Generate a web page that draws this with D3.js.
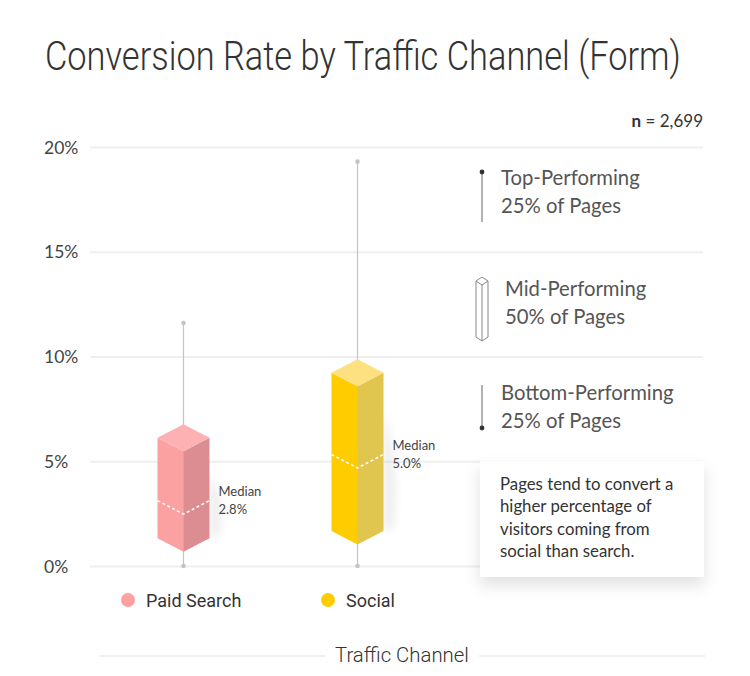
<!DOCTYPE html>
<html>
<head>
<meta charset="utf-8">
<script src="https://cdn.jsdelivr.net/npm/d3@7"></script>
<style>
  body { margin: 0; background: #fff; }
  svg { display: block; }
</style>
</head>
<body>
<div id="chart"></div>
<script>
// data (values in %)
const channels = ["Paid Search", "Social"];
const mins = [0, 0];
const q1s = [1.0, 1.35];
const medians = [2.8, 5.0];
const q3s = [5.8, 8.9];
const maxs = [11.6, 19.3];
const medianLabels = ["2.8%", "5.0%"];
const yTicks = [0, 5, 10, 15, 20];
const sampleSize = "2,699";
const noteLines = ["Pages tend to convert a", "higher percentage of", "visitors coming from", "social than search."];

const colors = [
    { left: "#fca1a2", right: "#db8d91", top: "#fdb1b2", dot: "#fca1a2" },
    { left: "#ffcc00", right: "#e0c54e", top: "#fde080", dot: "#ffcc00" }
];

const W = 750, H = 676;
const svg = d3.select("#chart").append("svg").attr("width", W).attr("height", H);
const defs = svg.append("defs");
defs.append("filter").attr("id", "blur").attr("x", "-50%").attr("y", "-50%").attr("width", "200%").attr("height", "200%")
    .append("feGaussianBlur").attr("stdDeviation", 5);
const shadow = defs.append("filter").attr("id", "card").attr("x", "-20%").attr("y", "-20%").attr("width", "140%").attr("height", "160%");
shadow.append("feDropShadow").attr("dx", 0).attr("dy", 8).attr("stdDeviation", 8)
    .attr("flood-color", "#000").attr("flood-opacity", 0.12);

const y = d3.scaleLinear().domain([0, 20]).range([566, 147]);
const x = d3.scalePoint().domain(channels).range([183.5, 357.5]);
const left = 90, right = 703;

// squeeze a text horizontally to a given width (the original uses a condensed face)
function condense(sel, width) {
    const w = sel.node().getComputedTextLength();
    const tx = +sel.attr("data-x"), ty = +sel.attr("data-y");
    sel.attr("transform", `translate(${tx},${ty}) scale(${Math.min(1, width / w)},1)`);
}

// title
const title = svg.append("text")
    .attr("data-x", 45).attr("data-y", 70)
    .attr("font-family", "Roboto, sans-serif").attr("font-weight", 300)
    .attr("font-size", 40).attr("fill", "#333")
    .text("Conversion Rate by Traffic Channel (Form)");
condense(title, 636);

// sample size
const nText = svg.append("text")
    .attr("x", 703).attr("y", 127).attr("text-anchor", "end")
    .attr("font-family", "Lato, sans-serif").attr("font-size", 17).attr("fill", "#333");
nText.append("tspan").attr("font-weight", "bold").text("n");
nText.append("tspan").text(" = " + sampleSize);

// grid + y labels
const yAxis = svg.append("g")
    .attr("transform", `translate(${left},0)`)
    .call(d3.axisRight(y).tickValues(yTicks).tickSize(right - left).tickFormat(d => d + "%"));
yAxis.select(".domain").remove();
yAxis.selectAll(".tick line").attr("stroke", "#efefef").attr("stroke-width", 2);
yAxis.selectAll(".tick text")
    .attr("x", -46).attr("dy", "0.35em").attr("text-anchor", "start")
    .attr("font-family", "Lato, sans-serif").attr("font-size", 17.5).attr("fill", "#444");

// boxes
const hw = 26, hh = 13.5, half = hh / 2;
const boxes = svg.append("g");
channels.forEach((c, i) => {
    const cx = x(c);
    const g = boxes.append("g");
    const yTop = y(q3s[i]), yBot = y(q1s[i]);

    // whisker
    g.append("line").attr("x1", cx).attr("x2", cx).attr("y1", y(maxs[i])).attr("y2", y(mins[i]))
        .attr("stroke", "#c4c4c4").attr("stroke-width", 1.2);
    [maxs[i], mins[i]].forEach(v => g.append("circle").attr("cx", cx).attr("cy", y(v)).attr("r", 2.3).attr("fill", "#c4c4c4"));

    // soft shadow on the right
    g.append("path")
        .attr("d", `M${cx + hw},${yTop + 30} Q${cx + hw + 16},${(yTop + yBot) / 2} ${cx + hw + 10},${yBot - 10} L${cx + hw},${yBot - 5} Z`)
        .attr("fill", "#000").attr("opacity", 0.07).attr("filter", "url(#blur)");

    // left face
    g.append("path")
        .attr("d", `M${cx - hw},${yTop - half} L${cx},${yTop + half} L${cx},${yBot + half} L${cx - hw},${yBot - half} Z`)
        .attr("fill", colors[i].left);
    // right face
    g.append("path")
        .attr("d", `M${cx},${yTop + half} L${cx + hw},${yTop - half} L${cx + hw},${yBot - half} L${cx},${yBot + half} Z`)
        .attr("fill", colors[i].right);
    // top face
    g.append("path")
        .attr("d", `M${cx},${yTop - half - hh} L${cx + hw},${yTop - half} L${cx},${yTop + half} L${cx - hw},${yTop - half} Z`)
        .attr("fill", colors[i].top);

    // median
    const ym = y(medians[i]);
    g.append("path")
        .attr("d", `M${cx - hw},${ym - half} L${cx},${ym + half} L${cx + hw},${ym - half}`)
        .attr("fill", "none").attr("stroke", "#fff").attr("stroke-width", 1.6).attr("stroke-dasharray", "3,2.5");
    const lbl = g.append("text")
        .attr("font-family", "Lato, sans-serif").attr("font-size", 13).attr("fill", "#444");
    lbl.append("tspan").attr("x", cx + hw + 9).attr("y", ym - half - 5).text("Median");
    lbl.append("tspan").attr("x", cx + hw + 9).attr("y", ym - half + 13).text(medianLabels[i]);
});

// key panel
const key = svg.append("g");
const keyFont = "Lato, sans-serif";
function keyText(x0, y0, lines) {
    const t = key.append("text").attr("font-family", keyFont).attr("font-size", 20.3).attr("fill", "#555");
    lines.forEach((l, k) => t.append("tspan").attr("x", x0).attr("y", y0 + k * 28).text(l));
}
key.append("line").attr("x1", 482).attr("x2", 482).attr("y1", 172).attr("y2", 222).attr("stroke", "#999").attr("stroke-width", 1.5);
key.append("circle").attr("cx", 482).attr("cy", 172).attr("r", 2.4).attr("fill", "#333");
keyText(501, 185, ["Top-Performing", "25% of Pages"]);

const ix = 482, iw = 6, iTop = 281, iBot = 337, ih = 4;
key.append("path")
    .attr("d", `M${ix - iw},${iTop} L${ix},${iTop - ih} L${ix + iw},${iTop} L${ix},${iTop + ih} Z
                M${ix - iw},${iTop} L${ix - iw},${iBot} L${ix},${iBot + ih} L${ix + iw},${iBot} L${ix + iw},${iTop}
                M${ix},${iTop + ih} L${ix},${iBot + ih}`)
    .attr("fill", "#fff").attr("stroke", "#888").attr("stroke-width", 1);
keyText(505, 296, ["Mid-Performing", "50% of Pages"]);

key.append("line").attr("x1", 482).attr("x2", 482).attr("y1", 385).attr("y2", 428).attr("stroke", "#999").attr("stroke-width", 1.5);
key.append("circle").attr("cx", 482).attr("cy", 428).attr("r", 2.4).attr("fill", "#333");
keyText(501, 400, ["Bottom-Performing", "25% of Pages"]);

// note card
const card = svg.append("g");
card.append("rect").attr("x", 480).attr("y", 461).attr("width", 224).attr("height", 116)
    .attr("fill", "#fff").attr("filter", "url(#card)");
const note = card.append("text").attr("font-family", "Lato, sans-serif").attr("font-size", 16.8).attr("fill", "#333");
noteLines.forEach((l, k) => note.append("tspan").attr("x", 500).attr("y", 490 + k * 22.3).text(l));

// legend
const legend = svg.append("g");
const legendX = [128, 328];
channels.forEach((c, i) => {
    legend.append("circle").attr("cx", legendX[i]).attr("cy", 600).attr("r", 7).attr("fill", colors[i].dot);
    legend.append("text").attr("x", legendX[i] + 18).attr("y", 606.5)
        .attr("font-family", "Roboto, sans-serif").attr("font-size", 18).attr("fill", "#333")
        .text(c);
});

// x axis title
svg.append("line").attr("x1", 100).attr("x2", 325).attr("y1", 656).attr("y2", 656).attr("stroke", "#efefef").attr("stroke-width", 2);
svg.append("line").attr("x1", 479).attr("x2", 705).attr("y1", 656).attr("y2", 656).attr("stroke", "#efefef").attr("stroke-width", 2);
const xTitle = svg.append("text").attr("data-x", 335).attr("data-y", 662)
    .attr("font-family", "Roboto, sans-serif").attr("font-weight", 300).attr("font-size", 21).attr("fill", "#333")
    .text("Traffic Channel");
condense(xTitle, 134);
</script>
</body>
</html>
